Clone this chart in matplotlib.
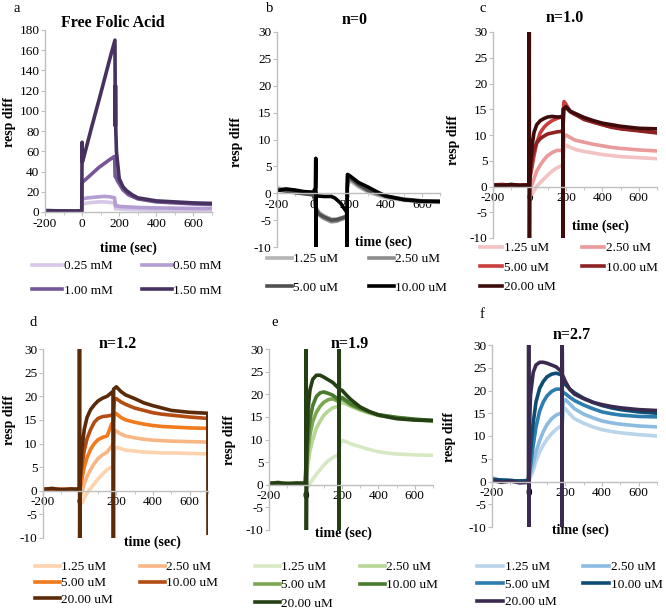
import matplotlib
matplotlib.use("Agg")
import matplotlib.pyplot as plt
from matplotlib.ticker import MultipleLocator

plt.rcParams['font.family'] = ['Liberation Serif', 'DejaVu Serif']
plt.rcParams['axes.unicode_minus'] = False

W, H = 666, 611

# ---------------- panel a : free folic acid (mM) ----------------
a_labels = ["0.25 mM", "0.50 mM", "1.00 mM", "1.50 mM"]
a_colors = ["#d6c8e6", "#b39dd2", "#765699", "#47325f"]
a_t_low = [-200, -100, -2, 0, 5, 30, 60, 90, 120, 150, 175, 180, 185, 200, 250, 300, 400, 500, 600, 700]
a_025 = [1, 1, 1, 7, 8, 9, 9.5, 10, 10, 9.5, 9, 3, 3.5, 3, 2.5, 2.2, 1.8, 1.5, 1.3, 1.2]
a_050 = [1, 1, 1, 12, 13, 14, 14.5, 15, 15.5, 15, 14, 6, 6.5, 5.5, 5, 4.5, 4, 3.8, 3.5, 3.5]
a_t_100 = [-200, -100, -2, 0, 5, 30, 60, 90, 120, 150, 175, 178, 182, 190, 200, 220, 250, 300, 400, 500, 600, 700]
a_100 = [1, 1, 1, 30, 30, 34, 39, 44, 48, 52, 55, 35, 35, 31, 28, 22, 17, 13, 10, 9, 8, 7.5]
a_t_150 = [-200, -100, -2, 0, 1, 3, 50, 100, 150, 177, 179, 180, 181, 185, 200, 220, 240, 270, 300, 400, 500, 600, 700]
a_150 = [1.5, 1, 1, 69, 50, 50, 83, 117, 152, 170, 85, 125, 85, 60, 33, 25, 21, 17, 14, 11, 10, 9, 8.5]

# ---------------- panel b : n=0 (uM) ----------------
b_labels = ["1.25 uM", "2.50 uM", "5.00 uM", "10.00 uM"]
b_colors = ["#b4b4b4", "#8c8c8c", "#505050", "#000000"]
b_t = [-200, -150, -100, -50, 0, 10, 14, 30, 60, 100, 130, 160, 185, 188, 200, 250, 300, 350, 400, 500, 600, 700]
b_125 = [1, 0.7, 0.3, 0, -0.3, -1, -2.5, -3.5, -4.2, -4.8, -4.8, -4.5, -4.2, 1.5, 2.5, 1.2, 0.3, -0.3, -0.8, -1.3, -1.6, -1.7]
b_250 = [0.8, 0.5, 0.2, 0, -0.2, -1.5, -3, -4, -4.7, -5.3, -5.2, -4.8, -4.5, 1, 2.8, 1.5, 0.5, 0, -0.6, -1.2, -1.5, -1.5]
b_500 = [0.6, 0.4, 0.1, -0.1, -0.3, -1.2, -2.8, -3.8, -4.4, -5, -4.9, -4.6, -4.3, 1.8, 3.0, 1.6, 0.6, 0, -0.5, -1.1, -1.4, -1.6]
b_t_1000 = [-200, -150, -100, -50, 0, 12, 14, 15, 16, 20, 60, 100, 120, 150, 170, 185, 187, 188, 189, 200, 250, 300, 350, 400, 500, 600, 700]
b_1000 = [0.5, 0.8, 0.6, 0.3, 0.2, 1, 6.5, -11, 0, -0.5, -0.6, -0.6, -0.9, -1.8, -2.8, -3.5, -11, 2.5, 3.5, 3.3, 2, 1.2, 0.3, -0.5, -1.2, -1.5, -1.5]

# ---------------- panels c-f share concentrations ----------------
conc_labels = ["1.25 uM", "2.50 uM", "5.00 uM", "10.00 uM", "20.00 uM"]
t_grid = [-200, -150, -100, -50, -2, 5, 15, 25, 40, 60, 80, 100, 125, 150, 175, 183, 190, 200, 225, 250, 300, 350, 400, 450, 500, 600, 700]

# panel c : n=1.0
c_colors = ["#f3c2c2", "#e99a9a", "#cc3f3f", "#8e2222", "#3e0b0b"]
c_125 = [0.3, 0.2, 0.3, 0.1, 0.2, -1, -1.5, -0.8, 0, 0.8, 1.5, 2.2, 3.0, 3.6, 4.0, 4.2, 7.5, 8.0, 7.6, 7.2, 6.8, 6.5, 6.2, 6.0, 5.8, 5.6, 5.4]
c_250 = [0.3, 0.2, 0.3, 0.1, 0.2, -0.5, 0.5, 1.5, 3, 4.2, 5.2, 6.0, 6.6, 7.0, 7.0, 7.2, 9.5, 10.0, 9.5, 9.0, 8.6, 8.2, 7.9, 7.6, 7.4, 7.1, 6.9]
c_500 = [0.3, 0.2, 0.3, 0.2, 0.3, 2, 4, 6, 8.5, 10.5, 11.5, 12.2, 12.8, 13.2, 13.5, 14, 16.5, 16, 14.5, 14, 13.2, 12.5, 12, 11.6, 11.3, 10.9, 10.5]
c_1000 = [0.3, 0.4, 0.2, 0.3, 0.3, 3, 5.5, 7, 8.5, 9.3, 9.8, 10.2, 10.4, 10.6, 10.7, 11, 15, 15.3, 14.5, 14, 13, 12.5, 12, 11.5, 11.2, 10.8, 10.4]
c_t_2000 = [-200, -150, -100, -50, -2, -1, 0, 1, 5, 15, 25, 40, 60, 80, 100, 125, 150, 175, 183, 184, 185, 200, 225, 250, 300, 350, 400, 450, 500, 600, 700]
c_2000 = [0.3, 0.2, 0.4, 0.2, 0.3, 31, -11, 1, 4, 8, 10.5, 12, 12.8, 13.2, 13.5, 13.6, 13.5, 13.5, 13.4, -11, 15, 15.5, 14.6, 14.2, 13.4, 12.8, 12.3, 12.0, 11.7, 11.3, 11.2]

# panel d : n=1.2
d_colors = ["#fcd3ad", "#f8b684", "#f07a1c", "#b44d12", "#5b2a09"]
d_125 = [0.3, 0.2, 0.3, 0.2, 0.3, -2, -2.5, -1.5, -0.5, 0.5, 1.5, 2.5, 3.5, 4.5, 5.0, 5.2, 9.2, 9.2, 8.9, 8.6, 8.4, 8.2, 8.1, 8.0, 8.0, 7.9, 7.8]
d_250 = [0.3, 0.2, 0.3, 0.2, 0.3, -1, 0, 1.5, 3, 4.5, 5.8, 6.8, 7.6, 8.2, 9.5, 9.8, 12.8, 12.6, 12.0, 11.6, 11.2, 10.9, 10.7, 10.6, 10.5, 10.4, 10.3]
d_500 = [0.3, 0.2, 0.3, 0.2, 0.3, 1, 3, 5, 7, 8.8, 10, 10.8, 11.3, 11.6, 14.2, 14.5, 16.5, 16.3, 15.5, 15.0, 14.5, 14.1, 13.8, 13.6, 13.5, 13.3, 13.2]
d_1000 = [0.3, 0.2, 0.3, 0.2, 0.3, 3, 6, 8.5, 11, 13, 14.5, 15.3, 15.7, 15.8, 16.0, 16.2, 19.5, 19.5, 18.8, 18.3, 17.5, 17.0, 16.5, 16.2, 16.0, 15.6, 15.3]
d_t_2000 = [-200, -150, -100, -50, -2, -1, 0, 2, 10, 25, 40, 60, 80, 100, 125, 150, 175, 183, 184, 185, 200, 225, 250, 300, 350, 400, 450, 500, 600, 699, 700]
d_2000 = [0.3, 0.5, 0.2, 0.4, 0.3, 31, -11, 2, 8, 13, 15.5, 17.2, 18.2, 19, 19.6, 20, 20.8, 21, -11, 21.5, 22, 21, 20.3, 19.5, 18.6, 18, 17.5, 17, 16.6, 16.4, -9]

# panel e : n=1.9
e_colors = ["#d7e9c3", "#b6d696", "#7aa850", "#4a7a2e", "#253f14"]
e_125 = [0.3, 0.2, 0.3, 0.2, 0.3, -0.5, -0.5, 0.3, 1.2, 2.3, 3.3, 4.3, 5.3, 6.0, 6.5, 6.8, 9.0, 9.8, 9.5, 9.0, 8.4, 7.8, 7.3, 7.0, 6.8, 6.6, 6.5]
e_250 = [0.3, 0.2, 0.3, 0.2, 0.3, 2, 5, 7.5, 10, 12.5, 14, 15.3, 16.3, 17, 17.3, 17.5, 18, 18.2, 17.8, 17.3, 16.5, 15.8, 15.3, 15.0, 14.7, 14.3, 14.0]
e_500 = [0.3, 0.2, 0.3, 0.2, 0.3, 4, 8, 11, 14, 16, 17.3, 18.2, 18.8, 19, 18.5, 18.2, 18.8, 19, 18.3, 17.6, 16.7, 16, 15.4, 15.1, 14.8, 14.4, 14.1]
e_1000 = [0.3, 0.2, 0.3, 0.2, 0.3, 6, 11, 14.5, 17.5, 19.5, 20.3, 20.5, 20.2, 19.8, 19, 18.6, 19, 19.3, 18.6, 17.8, 16.9, 16.1, 15.5, 15.2, 14.9, 14.5, 14.2]
e_t_2000 = [-200, -150, -100, -50, 3, 4, 5, 7, 15, 25, 40, 60, 80, 100, 125, 150, 175, 183, 184, 185, 186, 200, 225, 250, 300, 350, 400, 450, 500, 600, 700]
e_2000 = [0.3, 0.5, 0.2, 0.4, 0.3, 31, -11, 8, 17, 21, 23.3, 24.2, 24.2, 23.8, 23.2, 22.6, 21.6, 21.3, -11, 31, 21, 20.9, 19.8, 18.8, 17.2, 16.2, 15.4, 15.0, 14.6, 14.3, 14.2]

# panel f : n=2.7
f_colors = ["#bad4ea", "#8bbbe0", "#2d7eaf", "#0f4c73", "#3a2a4f"]
f_125 = [0.8, 0.3, 0.2, 0.1, 0.2, 0.5, 1.5, 2.5, 4.5, 6.5, 8, 9.3, 10.5, 11.5, 12.2, 12.4, 15.5, 16, 14.8, 13.8, 12.8, 12.0, 11.4, 11.0, 10.7, 10.3, 10.0]
f_250 = [0.5, 0.3, 0.2, 0.1, 0.2, 1, 2.5, 4, 6.5, 9, 11, 12.5, 13.8, 14.6, 15, 15.2, 17.5, 18, 17, 16, 14.8, 14.0, 13.3, 12.9, 12.6, 12.2, 12.0]
f_500 = [0.5, 0.3, 0.2, 0.1, 0.2, 2, 5, 8, 12, 15.5, 17.5, 18.8, 19.8, 20.3, 20.3, 20, 19.5, 19.3, 18.5, 17.8, 16.8, 16, 15.3, 14.9, 14.6, 14.3, 14.2]
f_1000 = [0.5, 0.3, 0.2, 0.1, 0.2, 4, 9, 13, 17.5, 20.5, 22, 23, 23.6, 23.8, 23.5, 23, 22, 21.3, 20.3, 19.5, 18.3, 17.4, 16.7, 16.2, 15.8, 15.3, 15.0]
f_t_2000 = [-200, -150, -100, -50, -1, 0, 1, 3, 10, 25, 40, 60, 80, 100, 125, 150, 175, 181, 182, 183, 184, 200, 225, 250, 300, 350, 400, 450, 500, 600, 700]
f_2000 = [0.3, -0.2, 0.1, -0.3, -0.2, 31, -11, 10, 19, 24, 25.6, 26.2, 26.2, 26, 25.6, 25.2, 24.3, 24, -11, 31, 23.5, 22, 20.2, 19.2, 18.2, 17.4, 16.9, 16.5, 16.2, 15.8, 15.6]

x_ticks = [-200, 0, 200, 400, 600]
gray = "#bfbfbf"
LW = 2.6

fig = plt.figure(figsize=(W / 100, H / 100), dpi=100)


def px(x, y):
    return x / W, 1 - y / H


def new_axes(l, t, r, b):
    return fig.add_axes([l / W, 1 - b / H, (r - l) / W, (b - t) / H])


def style(ax, ymin, ymax, ystep, zero_axis=True):
    ax.set_xlim(-200, 700)
    ax.set_ylim(ymin, ymax)
    ax.set_xticks(x_ticks)
    ax.xaxis.set_minor_locator(MultipleLocator(100))
    ax.yaxis.set_major_locator(MultipleLocator(ystep))
    ax.spines['top'].set_visible(False)
    ax.spines['right'].set_visible(False)
    ax.spines['left'].set_color(gray)
    ax.spines['bottom'].set_color(gray)
    ax.spines['left'].set_linewidth(1.0)
    ax.spines['bottom'].set_linewidth(1.0)
    if zero_axis:
        ax.spines['bottom'].set_position(('data', 0))
    ax.tick_params(colors=gray, labelcolor='black', labelsize=9.5, length=3, width=0.8, pad=1)
    ax.tick_params(axis='x', which='minor', length=2, color=gray)
    ax.patch.set_alpha(0)


def legend(ax, lines, labels, x, y, ls, hl, cs):
    # matplotlib fills columns first, reorder so entries read row by row
    n = len(lines)
    order = list(range(0, n, 2)) + list(range(1, n, 2))
    leg = ax.legend([lines[i] for i in order], [labels[i] for i in order], ncol=2,
                    loc='upper left', bbox_to_anchor=px(x, y), bbox_transform=fig.transFigure,
                    frameon=False, fontsize=9.5, borderpad=0, borderaxespad=0,
                    labelspacing=ls, handlelength=hl, handletextpad=0.1, columnspacing=cs)
    for h in leg.get_lines():
        h.set_linewidth(2.6)


def texts(letter, lpos, title, tpos, xl, ylpos):
    fig.text(*px(*lpos), letter, fontsize=10.5, ha='center', va='center')
    fig.text(*px(*tpos), title, fontsize=11.5, fontweight='bold', ha='center', va='center')
    fig.text(*px(*xl), "time (sec)", fontsize=10, fontweight='bold', ha='center', va='center')
    fig.text(*px(*ylpos), "resp diff", fontsize=10, fontweight='bold', ha='center', va='center',
             rotation=90)


# ---------- a ----------
ax = new_axes(45, 30, 212, 212)
style(ax, 0, 180, 20, zero_axis=False)
la = []
la += ax.plot(a_t_low, a_025, color=a_colors[0], lw=LW)
la += ax.plot(a_t_low, a_050, color=a_colors[1], lw=LW)
la += ax.plot(a_t_100, a_100, color=a_colors[2], lw=LW)
la += ax.plot(a_t_150, a_150, color=a_colors[3], lw=LW)
legend(ax, la, a_labels, 32, 260, 0.95, 2.3, 2.2)
texts("a", (17, 8), "Free Folic Acid", (113, 23), (128, 248), (10, 122))

# ---------- b ----------
ax = new_axes(277, 32, 440, 247)
style(ax, -10, 30, 5)
lb = []
lb += ax.plot(b_t, b_125, color=b_colors[0], lw=LW)
lb += ax.plot(b_t, b_250, color=b_colors[1], lw=LW)
lb += ax.plot(b_t, b_500, color=b_colors[2], lw=LW)
lb += ax.plot(b_t_1000, b_1000, color=b_colors[3], lw=LW)
legend(ax, lb, b_labels, 267, 253, 1.25, 1.9, 2.3)
texts("b", (270, 8), "n=0", (355, 20), (383, 242), (237, 142))

# ---------- c-f ----------
panels = [
    ((493, 32, 657, 238), [c_125, c_250, c_500, c_1000], c_t_2000, c_2000, c_colors,
     (480, 242, 0.55, 1.7, 2.0), ("c", (483, 8), "n=1.0", (565, 18), (600, 226), (454, 140))),
    ((43, 349, 208, 538), [d_125, d_250, d_500, d_1000], d_t_2000, d_2000, d_colors,
     (35, 561, 0.3, 1.9, 2.0), ("d", (33, 322), "n=1.2", (118, 344), (152, 542), (10, 420))),
    ((269, 349, 433, 530), [e_125, e_250, e_500, e_1000], e_t_2000, e_2000, e_colors,
     (255, 561, 0.45, 1.9, 2.0), ("e", (275, 322), "n=1.9", (350, 344), (343, 533), (230, 440))),
    ((492, 345, 657, 527), [f_125, f_250, f_500, f_1000], f_t_2000, f_2000, f_colors,
     (477, 561, 0.4, 2.0, 2.0), ("f", (482, 315), "n=2.7", (572, 335), (580, 530), (450, 437))),
]

for box, series, t_dark, dark, cols, lg, tx in panels:
    ax = new_axes(*box)
    style(ax, -10, 30, 5)
    lines = []
    for s, col in zip(series, cols):
        lines += ax.plot(t_grid, s, color=col, lw=LW)
    lines += ax.plot(t_dark, dark, color=cols[4], lw=LW)
    legend(ax, lines, conc_labels, *lg)
    texts(*tx)

fig.savefig("out.png", dpi=100)
